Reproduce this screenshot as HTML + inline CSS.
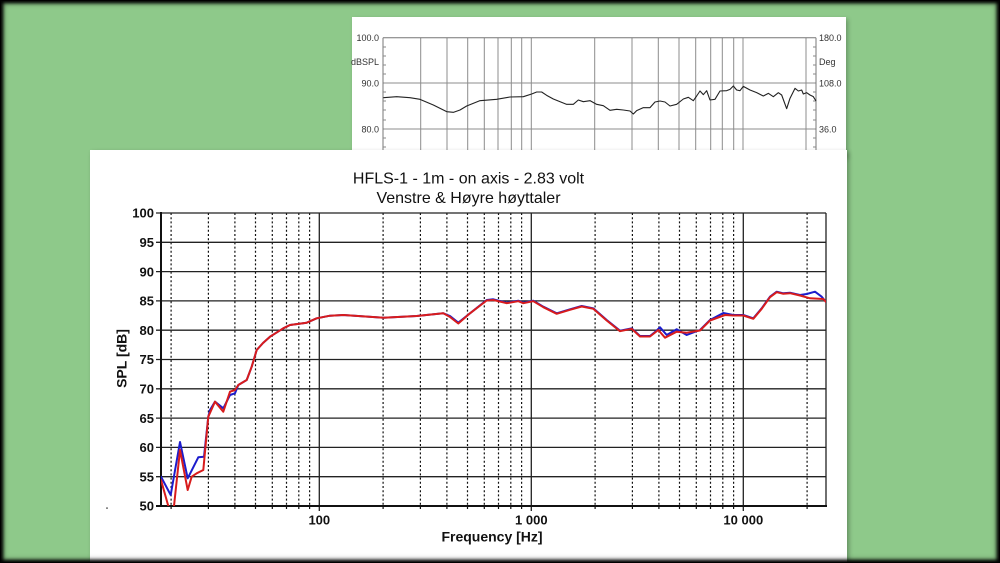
<!DOCTYPE html>
<html>
<head>
<meta charset="utf-8">
<style>
  html,body{margin:0;padding:0;background:#8ec98a;}
  #wrap{position:relative;width:1000px;height:563px;overflow:hidden;background:#8ec98a;}
  svg{position:absolute;left:0;top:0;}
  #vig{position:absolute;left:0;top:0;width:998px;height:561px;border:1px solid #000;box-shadow:inset 0 0 3px 2px rgba(0,0,0,1), inset 0 0 6px 2px rgba(0,0,0,0.5);pointer-events:none;}
</style>
</head>
<body>
<div id="wrap">
<svg width="1000" height="563" viewBox="0 0 1000 563" xmlns="http://www.w3.org/2000/svg" font-family="Liberation Sans, Arial, sans-serif">
  <defs>
    <clipPath id="pc"><rect x="161" y="213" width="665" height="293"/></clipPath>
    <filter id="sh" x="-5%" y="-5%" width="110%" height="110%">
      <feGaussianBlur stdDeviation="2.5"/>
    </filter>
  </defs>

  <!-- top (background) panel -->
  <rect x="354" y="19" width="494" height="140" fill="#000" opacity="0.25" filter="url(#sh)"/>
  <rect x="352" y="17" width="494" height="140" fill="#ffffff"/>
  <g stroke="#8c8c8c" stroke-width="1" fill="none">
    <line x1="420.7" y1="38" x2="420.7" y2="152"/>
    <line x1="447" y1="38" x2="447" y2="152"/>
    <line x1="467.7" y1="38" x2="467.7" y2="152"/>
    <line x1="484.3" y1="38" x2="484.3" y2="152"/>
    <line x1="498" y1="38" x2="498" y2="152"/>
    <line x1="511.3" y1="38" x2="511.3" y2="152"/>
    <line x1="521.7" y1="38" x2="521.7" y2="152"/>
    <line x1="531.3" y1="38" x2="531.3" y2="152"/>
    <line x1="594.7" y1="38" x2="594.7" y2="152"/>
    <line x1="632" y1="38" x2="632" y2="152"/>
    <line x1="658.3" y1="38" x2="658.3" y2="152"/>
    <line x1="679" y1="38" x2="679" y2="152"/>
    <line x1="695.7" y1="38" x2="695.7" y2="152"/>
    <line x1="710.7" y1="38" x2="710.7" y2="152"/>
    <line x1="722.3" y1="38" x2="722.3" y2="152"/>
    <line x1="733.7" y1="38" x2="733.7" y2="152"/>
    <line x1="743" y1="38" x2="743" y2="152"/>
    <line x1="806" y1="38" x2="806" y2="152"/>
    <line x1="383" y1="83" x2="816" y2="83"/>
    <line x1="383" y1="129" x2="816" y2="129"/>
  </g>
  <g stroke="#777" stroke-width="1" fill="none">
    <line x1="383" y1="37.7" x2="816" y2="37.7"/>
    <line x1="383" y1="37.7" x2="383" y2="152"/>
    <line x1="816" y1="37.7" x2="816" y2="152"/>
  </g>
  <g stroke="#888" stroke-width="1">
    <line x1="383" y1="47" x2="386" y2="47"/><line x1="383" y1="56" x2="386" y2="56"/>
    <line x1="383" y1="65" x2="386" y2="65"/><line x1="383" y1="74" x2="386" y2="74"/>
    <line x1="383" y1="92" x2="386" y2="92"/><line x1="383" y1="101" x2="386" y2="101"/>
    <line x1="383" y1="110" x2="386" y2="110"/><line x1="383" y1="120" x2="386" y2="120"/>
    <line x1="383" y1="138" x2="386" y2="138"/><line x1="383" y1="147" x2="386" y2="147"/>
    <line x1="813" y1="47" x2="816" y2="47"/><line x1="813" y1="56" x2="816" y2="56"/>
    <line x1="813" y1="65" x2="816" y2="65"/><line x1="813" y1="74" x2="816" y2="74"/>
    <line x1="813" y1="92" x2="816" y2="92"/><line x1="813" y1="101" x2="816" y2="101"/>
    <line x1="813" y1="110" x2="816" y2="110"/><line x1="813" y1="120" x2="816" y2="120"/>
    <line x1="813" y1="138" x2="816" y2="138"/><line x1="813" y1="147" x2="816" y2="147"/>
  </g>
  <g font-size="9" fill="#333">
    <text x="379" y="41" text-anchor="end">100.0</text>
    <text x="379" y="65" text-anchor="end">dBSPL</text>
    <text x="379" y="86.5" text-anchor="end">90.0</text>
    <text x="379" y="132.5" text-anchor="end">80.0</text>
    <text x="819" y="41">180.0</text>
    <text x="819" y="65">Deg</text>
    <text x="819" y="86.5">108.0</text>
    <text x="819" y="132.5">36.0</text>
  </g>
  <g transform="translate(340,10) scale(0.33333)">
    <polyline fill="none" stroke="#222" stroke-width="3.3" stroke-linejoin="round"
      points="130,263 170,260 210,263 240,268 280,285 320,305 340,307 360,300 380,288 420,272 470,268 510,261 550,260 575,252 590,246 605,246 620,256 640,267 680,283 700,283 715,270 730,275 750,272 770,283 790,287 810,301 830,298 850,300 870,303 880,312 890,302 910,293 930,293 945,276 960,273 975,276 990,288 1010,283 1030,267 1045,262 1060,272 1070,258 1080,243 1090,254 1100,242 1110,270 1125,268 1140,243 1160,242 1170,238 1180,228 1190,240 1200,242 1210,229 1230,240 1250,248 1270,258 1285,250 1300,260 1315,248 1325,255 1340,296 1350,265 1365,235 1375,243 1385,240 1390,252 1400,248 1410,255 1420,260 1428,273"/>
  </g>

  <!-- main panel -->
  <rect x="92" y="152" width="757" height="412" fill="#000" opacity="0.3" filter="url(#sh)"/>
  <rect x="90" y="150" width="757" height="413" fill="#ffffff"/>

  <!-- title -->
  <g font-size="16" fill="#111" text-anchor="middle">
    <text x="468.5" y="183.3">HFLS-1 - 1m - on axis - 2.83 volt</text>
    <text x="468.5" y="202.8">Venstre &amp; Høyre høyttaler</text>
  </g>

  <!-- minor dotted verticals -->
  <g stroke="#111" stroke-width="1.2" stroke-dasharray="2,2.2" fill="none">
    <line x1="171.1" y1="213" x2="171.1" y2="510"/>
    <line x1="208.4" y1="213" x2="208.4" y2="510"/>
    <line x1="234.9" y1="213" x2="234.9" y2="510"/>
    <line x1="255.5" y1="213" x2="255.5" y2="510"/>
    <line x1="272.3" y1="213" x2="272.3" y2="510"/>
    <line x1="286.5" y1="213" x2="286.5" y2="510"/>
    <line x1="298.8" y1="213" x2="298.8" y2="510"/>
    <line x1="309.6" y1="213" x2="309.6" y2="510"/>
    <line x1="383.1" y1="213" x2="383.1" y2="510"/>
    <line x1="420.4" y1="213" x2="420.4" y2="510"/>
    <line x1="446.9" y1="213" x2="446.9" y2="510"/>
    <line x1="467.5" y1="213" x2="467.5" y2="510"/>
    <line x1="484.3" y1="213" x2="484.3" y2="510"/>
    <line x1="498.5" y1="213" x2="498.5" y2="510"/>
    <line x1="510.8" y1="213" x2="510.8" y2="510"/>
    <line x1="521.6" y1="213" x2="521.6" y2="510"/>
    <line x1="595.1" y1="213" x2="595.1" y2="510"/>
    <line x1="632.4" y1="213" x2="632.4" y2="510"/>
    <line x1="658.9" y1="213" x2="658.9" y2="510"/>
    <line x1="679.5" y1="213" x2="679.5" y2="510"/>
    <line x1="696.3" y1="213" x2="696.3" y2="510"/>
    <line x1="710.5" y1="213" x2="710.5" y2="510"/>
    <line x1="722.8" y1="213" x2="722.8" y2="510"/>
    <line x1="733.6" y1="213" x2="733.6" y2="510"/>
    <line x1="807.1" y1="213" x2="807.1" y2="510"/>
  </g>

  <!-- major grid -->
  <g stroke="#222" stroke-width="1.3" fill="none">
    <line x1="156" y1="242.3" x2="826" y2="242.3"/>
    <line x1="156" y1="271.6" x2="826" y2="271.6"/>
    <line x1="156" y1="300.9" x2="826" y2="300.9"/>
    <line x1="156" y1="330.2" x2="826" y2="330.2"/>
    <line x1="156" y1="359.5" x2="826" y2="359.5"/>
    <line x1="156" y1="388.8" x2="826" y2="388.8"/>
    <line x1="156" y1="418.1" x2="826" y2="418.1"/>
    <line x1="156" y1="447.4" x2="826" y2="447.4"/>
    <line x1="156" y1="476.7" x2="826" y2="476.7"/>
    <line x1="319.3" y1="213" x2="319.3" y2="511"/>
    <line x1="531.3" y1="213" x2="531.3" y2="511"/>
    <line x1="743.3" y1="213" x2="743.3" y2="511"/>
    <line x1="156" y1="213" x2="826" y2="213"/>
    <line x1="826" y1="213" x2="826" y2="506"/>
  </g>
  <g stroke="#111" stroke-width="2" fill="none">
    <line x1="161" y1="212" x2="161" y2="507"/>
    <line x1="156" y1="506" x2="827" y2="506"/>
  </g>

  <!-- series -->
  <g clip-path="url(#pc)" fill="none" stroke-width="2" stroke-linejoin="round" stroke-linecap="round">
    <polyline stroke="#1c1ccc" points="161,476.7 170.7,495 180,442 187.7,478.3 198.3,457.3 204,456.7 208.3,416.7 210,410 215,401.7 223.3,408.3 230,395 235,393.3 238.3,385 246.7,380 251.7,366.7 256.7,350 263,343 270,336.7 283.3,328.3 290,325 306.7,322.7 316.7,318.3 330,315.7 343.3,315 383.3,317.7 416.7,316 443.3,313.3 450,316 458.3,322.7 470,313.3 486.7,300 493.3,299.3 506.7,302.7 518.3,300.7 523.3,302.7 533.3,300.7 543.3,306.7 556.7,313.3 570,309.3 581.7,306 593.3,308.3 606.7,320 620,330.7 631.7,328.3 640,336 650,336 655,332 660,327.3 666.7,335 676.7,329.3 686.7,335 700,330 710,320 723.3,313 733.3,315 743.3,315 753.3,318.3 761.7,308.3 770,296.7 776.7,291.7 783.3,293.3 790,292.7 800,295 806.7,294 815,291.7 821.7,296.7 826,302"/>
    <polyline stroke="#d81c1c" points="161,480 168.3,506 171,509 174,506 180,450 187.7,490 191.7,476.7 196.7,473.3 203.3,470 208.3,416.7 215,401.7 223.3,411.7 230,391.7 235,390 238.3,385 246.7,380 251.7,366.7 256.7,350 263,343 270,336.7 283.3,328.3 290,325 306.7,322.7 316.7,318.3 330,315.7 343.3,315 383.3,317.7 416.7,316 443.3,313.3 450,317 458.3,323.5 470,313.3 486.7,300.5 493.3,300 506.7,303.2 518.3,301.2 523.3,303.2 533.3,301.2 543.3,307.2 556.7,313.8 570,309.8 581.7,306.5 593.3,308.8 606.7,320.5 620,331.2 631.7,328.8 640,336.5 650,336.5 658.3,330 665,337.7 676.7,331.7 686.7,332.7 700,330.5 710,320.5 725,315 733.3,315.5 743.3,315.5 753.3,318.8 761.7,308.8 770,297.2 776.7,292.2 783.3,293.8 790,293.2 800,295.5 810,298.3 823.3,299 826,302"/>
  </g>

  <!-- y tick labels -->
  <g font-size="13" font-weight="bold" fill="#111" text-anchor="end">
    <text x="154" y="217.7">100</text>
    <text x="154" y="247">95</text>
    <text x="154" y="276.3">90</text>
    <text x="154" y="305.6">85</text>
    <text x="154" y="334.9">80</text>
    <text x="154" y="364.2">75</text>
    <text x="154" y="393.5">70</text>
    <text x="154" y="422.8">65</text>
    <text x="154" y="452.1">60</text>
    <text x="154" y="481.4">55</text>
    <text x="154" y="510.7">50</text>
  </g>
  <!-- x tick labels -->
  <g font-size="13" font-weight="bold" fill="#111" text-anchor="middle">
    <text x="319.3" y="524.5">100</text>
    <text x="531.3" y="524.5">1 000</text>
    <text x="743.3" y="524.5">10 000</text>
  </g>
  <text x="492" y="541.5" font-size="14" font-weight="bold" fill="#111" text-anchor="middle">Frequency [Hz]</text>
  <text transform="translate(126.5,358.5) rotate(-90)" font-size="14" font-weight="bold" fill="#111" text-anchor="middle">SPL [dB]</text>
  <rect x="106" y="507.5" width="2" height="1.2" fill="#555"/>
</svg>
<div id="vig"></div>
</div>
</body>
</html>
